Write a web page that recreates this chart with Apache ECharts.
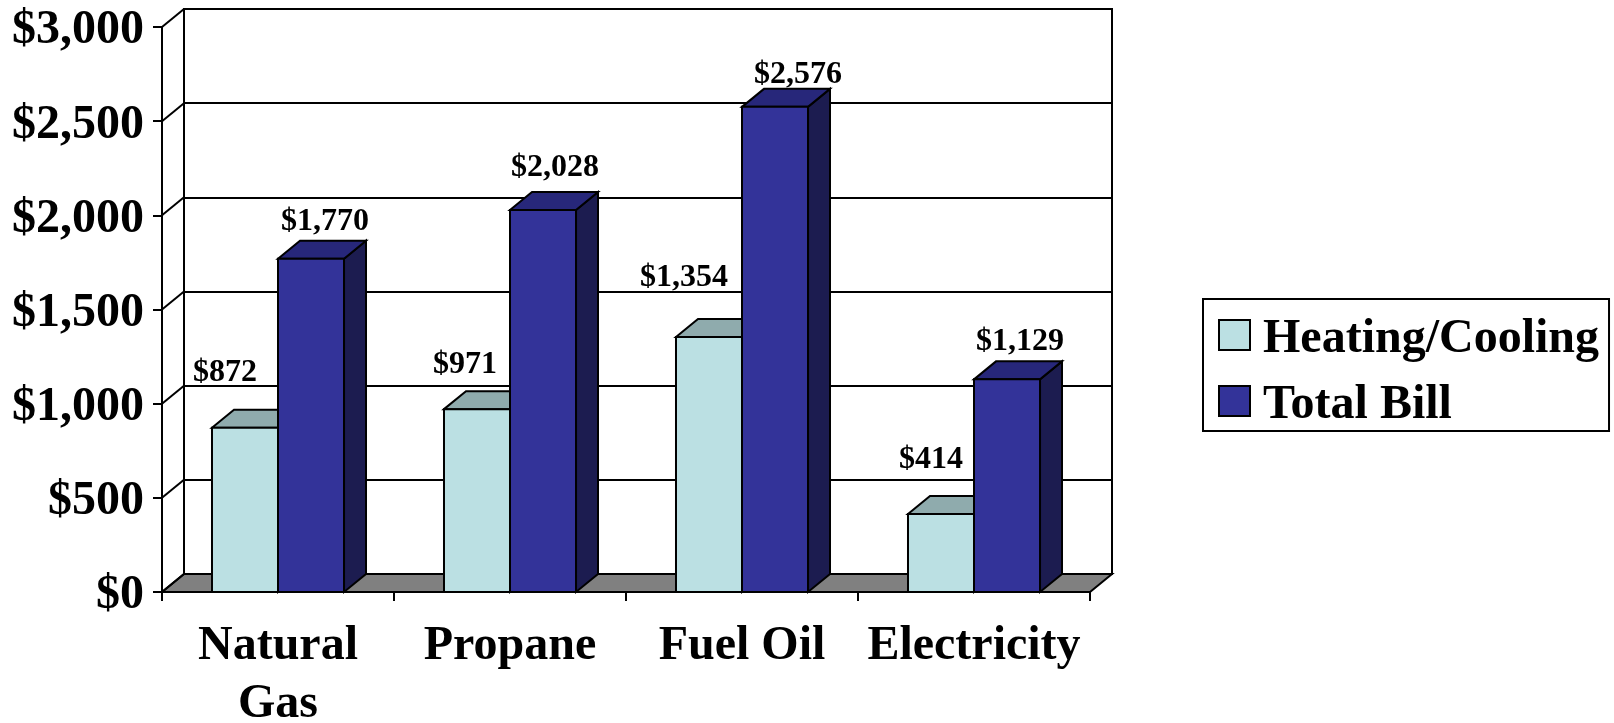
<!DOCTYPE html>
<html>
<head>
<meta charset="utf-8">
<style>html,body{margin:0;padding:0;background:#fff}#c{width:1614px;height:723px}</style>
<script src="https://cdn.jsdelivr.net/npm/echarts@6/dist/echarts.min.js"></script>
</head>
<body>
<div id="c"></div>
<script>
const categories = ['Natural\nGas', 'Propane', 'Fuel Oil', 'Electricity'];
const heatingCooling = [872, 971, 1354, 414];
const totalBill = [1770, 2028, 2576, 1129];
const yTicks = [0, 500, 1000, 1500, 2000, 2500, 3000];

const SERIF = '"Liberation Serif","Times New Roman",serif';
const DEPTH_X = 22, DEPTH_Y = -18, BAR_RATIO = 0.2845, LW = 2;
const fmt = v => '$' + String(v).replace(/\B(?=(\d{3})+$)/g, ',');
// hand-placed data label offsets from the bar's front-top centre, as in the source slide
const shiftHeating = [[-20, -55], [-12, -44], [-25, -59], [-10, -54]];
const shiftTotal = [[14, -37], [12, -42], [23, -32], [13, -38]];

function barRenderer(side, faces, shifts) {
  return function (params, api) {
    const i = api.value(0), v = api.value(1);
    const c = api.coord([i, v]), b = api.coord([i, 0]);
    const w = api.size([1, 0])[0] * BAR_RATIO;
    const x0 = side < 0 ? c[0] - w : c[0], x1 = x0 + w;
    const st = fill => ({ fill, stroke: '#000', lineWidth: LW, lineJoin: 'miter' });
    const s = shifts[params.dataIndex];
    return {
      type: 'group',
      children: [
        { type: 'polygon', shape: { points: [[x1, c[1]], [x1 + DEPTH_X, c[1] + DEPTH_Y], [x1 + DEPTH_X, b[1] + DEPTH_Y], [x1, b[1]]] }, style: st(faces.side) },
        { type: 'polygon', shape: { points: [[x0, c[1]], [x0 + DEPTH_X, c[1] + DEPTH_Y], [x1 + DEPTH_X, c[1] + DEPTH_Y], [x1, c[1]]] }, style: st(faces.top) },
        { type: 'rect', shape: { x: x0, y: c[1], width: w, height: b[1] - c[1] }, style: st(faces.front) },
        { type: 'text', style: { x: (x0 + x1) / 2 + s[0], y: c[1] + s[1], text: fmt(v), fill: '#000',
            font: 'bold 32px ' + SERIF, align: 'center', verticalAlign: 'middle' } }
      ]
    };
  };
}

function frameRenderer(params, api) {
  const v = api.value(0);
  const half = api.size([1, 0])[0] / 2;
  const left = api.coord([0, v]);
  const x = left[0] - half, y = left[1];
  const line = (a, b) => ({ type: 'line', shape: { x1: a[0], y1: a[1], x2: b[0], y2: b[1] }, style: { stroke: '#000', lineWidth: LW } });
  const children = [];
  if (v === 0) {
    const xr = api.coord([categories.length - 1, 0])[0] + half;
    children.push({ type: 'polygon', shape: { points: [[x, y], [x + DEPTH_X, y + DEPTH_Y], [xr + DEPTH_X, y + DEPTH_Y], [xr, y]] },
      style: { fill: '#808080', stroke: '#000', lineWidth: LW } });
  }
  children.push(line([x, y], [x + DEPTH_X, y + DEPTH_Y]));
  return { type: 'group', children };
}

const chart = echarts.init(document.getElementById('c'), null, { renderer: 'canvas' });
chart.setOption({
  animation: false,
  backgroundColor: '#fff',
  textStyle: { fontFamily: SERIF },
  grid: [
    { left: 162, top: 27, width: 928, height: 565, outerBoundsMode: 'none' },
    { left: 184, top: 9, width: 928, height: 565, outerBoundsMode: 'none', show: true, borderColor: '#000', borderWidth: LW, backgroundColor: 'transparent' }
  ],
  xAxis: [
    { type: 'category', gridIndex: 0, data: categories, z: 6,
      axisLine: { show: true, lineStyle: { color: '#000', width: LW } },
      axisTick: { show: true, length: 9, alignWithLabel: false, interval: 0, lineStyle: { color: '#000', width: LW } },
      axisLabel: { show: true, interval: 0, margin: 26, color: '#000', fontFamily: SERIF, fontWeight: 'bold', fontSize: 48, lineHeight: 58, hideOverlap: false },
      splitLine: { show: false } },
    { type: 'category', gridIndex: 1, data: categories, show: false }
  ],
  yAxis: [
    { type: 'value', gridIndex: 0, min: 0, max: 3000, interval: 500, z: 6,
      axisLine: { show: true, lineStyle: { color: '#000', width: LW } },
      axisTick: { show: true, length: 9, lineStyle: { color: '#000', width: LW } },
      axisLabel: { show: true, margin: 18, color: '#000', fontFamily: SERIF, fontWeight: 'bold', fontSize: 48, verticalAlign: 'top', lineHeight: 8, formatter: fmt, showMinLabel: true, showMaxLabel: true },
      splitLine: { show: false } },
    { type: 'value', gridIndex: 1, min: 0, max: 3000, interval: 500,
      axisLine: { show: false }, axisTick: { show: false }, axisLabel: { show: false },
      splitLine: { show: true, lineStyle: { color: '#000', width: LW } } }
  ],
  legend: {
    orient: 'vertical', left: 1203, top: 299, data: ['Heating/Cooling', 'Total Bill'],
    backgroundColor: '#fff', borderColor: '#000', borderWidth: LW,
    padding: [7, 10, 1, 15], itemWidth: 31, itemHeight: 30, itemGap: 8, selectedMode: false,
    icon: 'rect',
    itemStyle: { borderColor: '#000', borderWidth: LW },
    formatter: name => '{t|' + name + '}',
    textStyle: { color: '#000', rich: { t: { color: '#000', fontFamily: SERIF, fontWeight: 'bold', fontSize: 48, lineHeight: 32, padding: [10, 0, 0, 8] } } }
  },
  series: [
    { type: 'custom', name: 'frame', xAxisIndex: 0, yAxisIndex: 0, z: 1, clip: false, silent: true,
      data: yTicks.map(v => [v]), encode: { y: 0 }, renderItem: frameRenderer },
    { type: 'custom', name: 'Heating/Cooling', xAxisIndex: 0, yAxisIndex: 0, z: 3, clip: false,
      itemStyle: { color: '#BBE0E3' },
      data: heatingCooling.map((v, i) => [i, v]), encode: { x: 0, y: 1 },
      renderItem: barRenderer(-1, { front: '#BBE0E3', top: '#8FABAD', side: '#5E7072' }, shiftHeating) },
    { type: 'custom', name: 'Total Bill', xAxisIndex: 0, yAxisIndex: 0, z: 4, clip: false,
      itemStyle: { color: '#333399' },
      data: totalBill.map((v, i) => [i, v]), encode: { x: 0, y: 1 },
      renderItem: barRenderer(1, { front: '#333399', top: '#27277A', side: '#1C1C50' }, shiftTotal) }
  ]
});
</script>
</body>
</html>
